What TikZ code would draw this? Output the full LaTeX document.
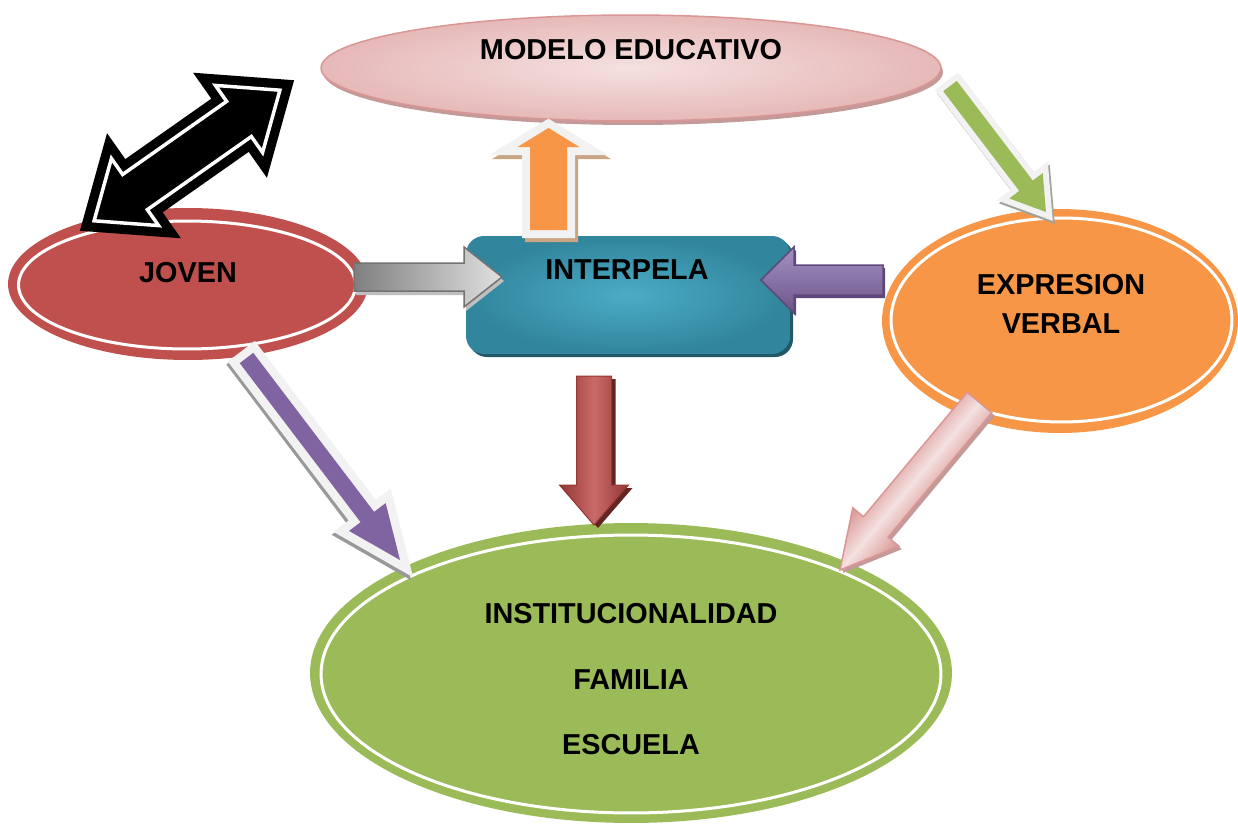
\documentclass[tikz,border=0pt]{standalone}
\usepackage{fontspec}
\setmainfont{Liberation Sans}
\usetikzlibrary{shapes.geometric}
\definecolor{jred}{HTML}{C0504D}
\definecolor{rdark}{HTML}{943634}
\definecolor{rdarker}{HTML}{632523}
\definecolor{jorange}{HTML}{F79646}
\definecolor{jgreen}{HTML}{9BBB59}
\definecolor{jpurple}{HTML}{8064A2}
\definecolor{pdark}{HTML}{5F497A}
\definecolor{plight}{HTML}{A391C2}
\definecolor{jteal}{HTML}{31859C}
\definecolor{tlight}{HTML}{4BACC6}
\definecolor{tdark}{HTML}{215968}
\definecolor{pinkl}{HTML}{F4E1E0}
\definecolor{pinkm}{HTML}{E6B9B8}
\definecolor{pinkd}{HTML}{D99694}
\definecolor{pinksh}{HTML}{C49A99}
\definecolor{lgray}{HTML}{F2F2F2}
\definecolor{orsh}{HTML}{C9A584}
\definecolor{gsh}{HTML}{A0A39A}

% single-headed block arrow: options, x1,y1 (start), x2,y2 (tip), half shaft, half head, head length (pixels)
\newcommand\fatarrow[8]{%
  \pgfmathsetmacro\fadx{(#4)-(#2)}%
  \pgfmathsetmacro\fady{(#3)-(#5)}%
  \pgfmathsetmacro\faang{atan2(\fady,\fadx)}%
  \pgfmathsetmacro\falen{100*veclen(\fadx/100,\fady/100)}%
  \pgfmathsetmacro\fab{\falen-(#8)}%
  \begin{scope}[transform canvas={shift={(#2,#3)},rotate=\faang}]
    \path[x=0.02cm,y=0.02cm,#1] (0,-#6) -- (\fab,-#6) -- (\fab,-#7) -- (\falen,0)
      -- (\fab,#7) -- (\fab,#6) -- (0,#6) -- cycle;
  \end{scope}}
% double-headed block arrow
\newcommand\dblarrow[8]{%
  \pgfmathsetmacro\fadx{(#4)-(#2)}%
  \pgfmathsetmacro\fady{(#3)-(#5)}%
  \pgfmathsetmacro\faang{atan2(\fady,\fadx)}%
  \pgfmathsetmacro\falen{100*veclen(\fadx/100,\fady/100)}%
  \pgfmathsetmacro\fab{\falen-(#8)}%
  \begin{scope}[transform canvas={shift={(#2,#3)},rotate=\faang}]
    \path[x=0.02cm,y=0.02cm,#1] (0,0) -- (#8,#7) -- (#8,#6) -- (\fab,#6) -- (\fab,#7)
      -- (\falen,0) -- (\fab,-#7) -- (\fab,-#6) -- (#8,-#6) -- (#8,-#7) -- cycle;
  \end{scope}}

\begin{document}
\begin{tikzpicture}[x=0.02cm,y=-0.02cm,
  txt/.style={font=\fontsize{16.4}{19}\selectfont\bfseries, inner sep=0pt, text=black},
  blob/.style={ellipse, inner sep=0pt, outer sep=0pt},
  ring/.style={draw=white, line width=0.06cm}]
\useasboundingbox (0,0) rectangle (1238,825);
\fill[white] (0,0) rectangle (1238,825);

% ---- MODELO EDUCATIVO
\fill[pinksh] (633,72) ellipse [x radius=6.2cm, y radius=1.06cm];
\node[blob, draw=pinkd, line width=0.03cm, inner color=pinkl, outer color=pinkm,
      minimum width=12.4cm, minimum height=2.12cm] (modelo) at (631,68) {};
\node[txt] (tmodelo) at (631,50) {MODELO EDUCATIVO};

% ---- JOVEN
\node[blob, fill=jred, minimum width=7.2cm, minimum height=3.04cm] (joven) at (188,284) {};
\draw[ring] (187,285) ellipse [x radius=3.37cm, y radius=1.28cm];
\node[txt] (tjoven) at (188,273) {JOVEN};

% ---- EXPRESION VERBAL
\node[blob, fill=jorange, minimum width=7.12cm, minimum height=4.48cm] (expr) at (1060,321) {};
\draw[ring] (1061.5,320) ellipse [x radius=3.41cm, y radius=2.04cm];
\node[txt] (texpr1) at (1061,285) {EXPRESION};
\node[txt] (texpr2) at (1061,324) {VERBAL};

% ---- INSTITUCIONALIDAD
\node[blob, fill=jgreen, minimum width=12.84cm, minimum height=6.0cm] (inst) at (631,673) {};
\draw[ring] (631,674) ellipse [x radius=6.2cm, y radius=2.78cm];
\node[txt] (tinst1) at (631,613.5) {INSTITUCIONALIDAD};
\node[txt] (tinst2) at (631,680) {FAMILIA};
\node[txt] (tinst3) at (631,744.5) {ESCUELA};

% ---- INTERPELA
\fill[tdark, rounded corners=0.36cm] (469,239) rectangle (793,357);
\node[rectangle, rounded corners=0.36cm, inner color=tlight, outer color=jteal,
      minimum width=6.48cm, minimum height=2.36cm, inner sep=0pt] (inter) at (628,295) {};
\node[txt] (tinter) at (627,270) {INTERPELA};

% ---- black double arrow
\dblarrow{draw=black, fill=black, line width=0.44cm, line join=miter}{94.1}{220.8}{279.9}{90.2}{21.5}{41}{50}
\dblarrow{draw=white, line width=0.07cm, line join=miter}{94.1}{220.8}{279.9}{90.2}{21.5}{41}{50}

% ---- orange up arrow (INTERPELA -> MODELO)
\fatarrow{draw=orsh, line width=0.32cm, line join=miter}{551.5}{234}{551.5}{132}{18.5}{31}{19}
\fatarrow{draw=lgray, fill=lgray, line width=0.32cm, line join=miter}{548.5}{230}{548.5}{128}{18.5}{31}{19}
\fatarrow{fill=jorange}{548.5}{230}{548.5}{128}{18.5}{31}{19}

% ---- green arrow (MODELO -> EXPRESION)
\fatarrow{draw=gsh, line width=0.24cm, line join=miter}{952}{89}{1048}{215}{8.5}{21}{33}
\fatarrow{draw=lgray, fill=lgray, line width=0.24cm, line join=miter}{950}{86}{1046}{212}{8.5}{21}{33}
\fatarrow{fill=jgreen}{950}{86}{1046}{212}{8.5}{21}{33}

% ---- gray arrow (JOVEN -> INTERPELA)
\fatarrow{fill=black!25}{356}{281}{504}{281}{14}{30}{38}
\fatarrow{draw=black!55, line width=0.03cm, left color=black!50, right color=black!12}{354}{277}{502}{277}{14}{30}{38}

% ---- purple arrow (EXPRESION -> INTERPELA)
\fatarrow{fill=pdark}{885}{283}{763}{283}{15}{33}{33}
\fatarrow{draw=pdark, line width=0.03cm, top color=jpurple!85!black, bottom color=plight}{883}{280}{761}{280}{15}{33}{33}

% ---- dark red arrow (INTERPELA -> INSTITUCIONALIDAD)
\fatarrow{fill=rdarker}{598}{379}{598}{528}{17.5}{34.5}{40}
\fatarrow{draw=rdark, line width=0.02cm, top color=rdark, bottom color=rdark, middle color=jred!85!white}{594}{376}{594}{525}{17.5}{34.5}{40}

% ---- purple diagonal arrow (JOVEN -> INSTITUCIONALIDAD)
\fatarrow{draw=black!40, line width=0.34cm, line join=miter}{245}{361}{398}{563}{8.5}{23}{54}
\fatarrow{draw=lgray, fill=lgray, line width=0.34cm, line join=miter}{246.5}{358}{400}{560}{8.5}{23}{54}
\fatarrow{fill=jpurple}{246.5}{358}{400}{560}{8.5}{23}{54}

% ---- pink arrow (EXPRESION -> INSTITUCIONALIDAD)
\fatarrow{fill=pinksh}{982.5}{405.5}{843}{573}{16}{30}{56}
\fatarrow{draw=pinkd, line width=0.03cm, top color=pinkd, bottom color=pinkd, middle color=pinkl}{979.5}{402.5}{840}{570}{16}{30}{56}
\end{tikzpicture}
\end{document}
